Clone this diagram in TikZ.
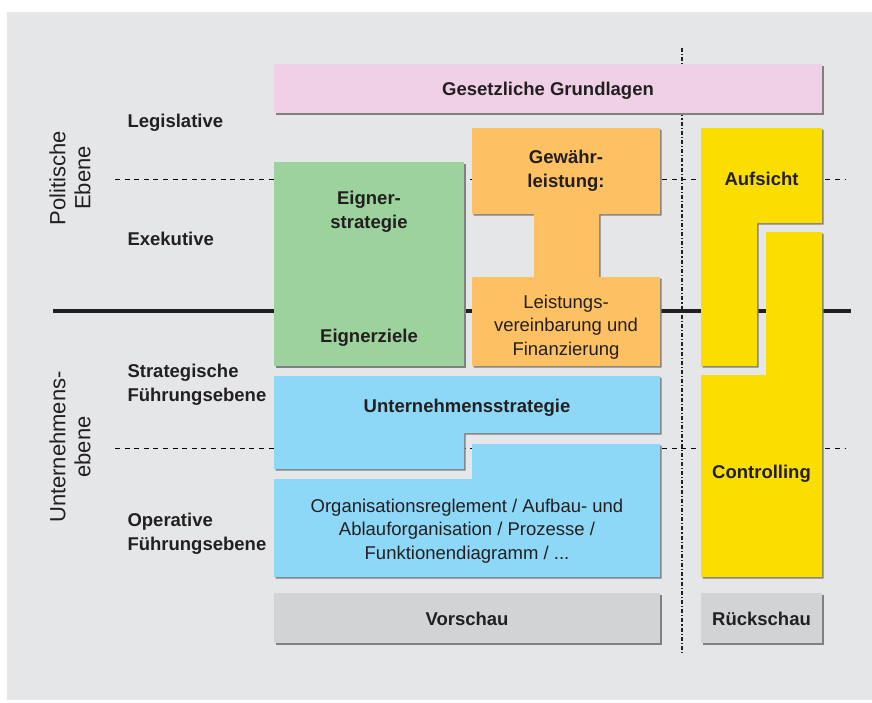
\documentclass[tikz,border=0pt]{standalone}
\usepackage{fontspec}
\setmainfont{Liberation Sans}
\usetikzlibrary{shadows}
\definecolor{bggray}{RGB}{229,230,232}
\definecolor{shadowgray}{RGB}{128,128,131}
\definecolor{txtgray}{RGB}{35,31,32}
\definecolor{rosa}{RGB}{240,208,230}
\definecolor{gruen}{RGB}{156,210,155}
\definecolor{orange}{RGB}{253,193,99}
\definecolor{blau}{RGB}{141,216,247}
\definecolor{gelb}{RGB}{250,222,0}
\definecolor{grau}{RGB}{210,211,213}
\begin{document}
\begin{tikzpicture}[x=1pt, y=-1pt, text=txtgray,
	font=\fontsize{18.5}{24}\selectfont,
	box/.style={fill=#1, drop shadow={shadow xshift=1.6pt, shadow yshift=-1.6pt, fill=shadowgray, opacity=1}},
	boxtext/.style={anchor=base, align=center, font=\fontsize{18.5}{24}\selectfont\bfseries},
	lighttext/.style={anchor=base, align=center, font=\fontsize{18.5}{23.5}\selectfont},
	level/.style={anchor=base west, align=left, font=\fontsize{18.5}{24}\selectfont\bfseries},
	sidelabel/.style={rotate=90, align=center, font=\fontsize{22}{25}\selectfont},
	dashline/.style={line width=1pt, dash pattern=on 5pt off 4.6pt}]
	\useasboundingbox (0,0) rectangle (872,702);
	\fill[bggray] (7,12) rectangle (872,700);
	
	%lines behind the boxes
	\draw[dashline] (115,179) -- (845,179);
	\draw[dashline] (115,448) -- (845,448);
	\draw[line width=4pt, txtgray] (53,310.5) -- (851,310.5);
	\draw[line width=1.3pt, txtgray, dash pattern=on 4pt off 2pt on 1.2pt off 2pt] (682,48) -- (682,654);
	
	%side labels
	\node[sidelabel] (politik) at (70,178) {Politische\\Ebene};
	\node[sidelabel] (unternehmen) at (70,447) {Unternehmens-\\ebene};
	\node[level] (legislative) at (124,127.7) {Legislative};
	\node[level] (exekutive) at (124,245) {Exekutive};
	\node[level] (strategisch) at (124,401) {Strategische\\Führungsebene};
	\node[level] (operativ) at (124,550) {Operative\\Führungsebene};
	
	%boxes
	\fill[box=rosa] (274,64) rectangle (822,113);
	\node[boxtext] (grundlagen) at (548,95) {Gesetzliche Grundlagen};
	
	\fill[box=gruen] (274,162) rectangle (464,366);
	\node[boxtext] (eignerstrategie) at (369,228) {Eigner-\\strategie};
	\node[boxtext] (eignerziele) at (369,342) {Eignerziele};
	
	\fill[box=orange] (472,128) -- (660,128) -- (660,214) -- (599,214) -- (599,277) -- (660,277)
		-- (660,366) -- (472,366) -- (472,277) -- (534,277) -- (534,214) -- (472,214) -- cycle;
	\node[boxtext] (gewaehr) at (566,187) {Gewähr-\\leistung:};
	\node[lighttext] (leistung) at (566,355) {Leistungs-\\vereinbarung und\\Finanzierung};
	
	\fill[box=gelb] (701,128) -- (822,128) -- (822,223) -- (757,223) -- (757,366) -- (701,366) -- cycle;
	\node[boxtext] (aufsicht) at (761.5,185) {Aufsicht};
	\fill[box=gelb] (766,232) -- (822,232) -- (822,577) -- (701,577) -- (701,375) -- (766,375) -- cycle;
	\node[boxtext] (controlling) at (761.5,478) {Controlling};
	
	\fill[box=blau] (274,376) -- (660,376) -- (660,433) -- (464,433) -- (464,469) -- (274,469) -- cycle;
	\node[boxtext] (strategie) at (467,412) {Unternehmensstrategie};
	\fill[box=blau] (472,444) -- (660,444) -- (660,577) -- (274,577) -- (274,479) -- (472,479) -- cycle;
	\node[lighttext] (organisation) at (467,559) {Organisationsreglement / Aufbau- und\\Ablauforganisation / Prozesse /\\Funktionendiagramm / ...};
	
	\fill[box=grau] (274,593) rectangle (660,643);
	\node[boxtext] (vorschau) at (467,625) {Vorschau};
	\fill[box=grau] (701,593) rectangle (822,643);
	\node[boxtext] (rueckschau) at (761.5,625) {Rückschau};
\end{tikzpicture}
\end{document}
